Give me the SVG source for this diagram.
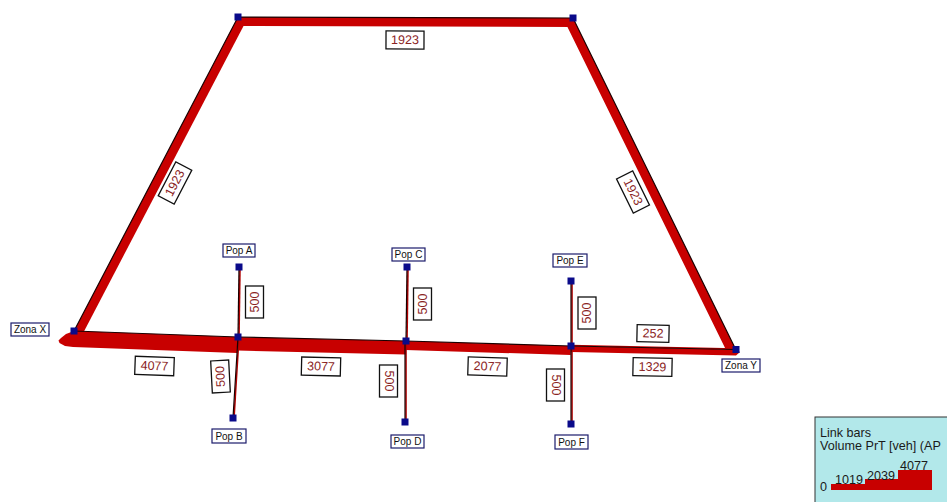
<svg xmlns="http://www.w3.org/2000/svg" width="947" height="502" viewBox="0 0 947 502">
<style>
  .bar{fill:#c80000;}
  .edge{fill:none;stroke:#1a0000;stroke-width:1.2;stroke-linejoin:miter;}
  .conn{stroke:#1a0000;stroke-width:1.2;}
  .connbar{stroke:#b00000;stroke-width:1.6;}
  .vbox{fill:#ffffff;stroke:#111111;stroke-width:1.3;}
  .vtxt{font-family:"Liberation Sans",Arial,sans-serif;font-size:12.5px;fill:#8a2323;text-anchor:middle;dominant-baseline:central;}
  .nbox{fill:#ffffff;stroke:#1c1c6c;stroke-width:1.2;}
  .ntxt{font-family:"Liberation Sans",Arial,sans-serif;font-size:10px;fill:#111111;text-anchor:middle;dominant-baseline:central;}
  .sq{fill:#0a0a8a;}
  .ltxt{font-family:"Liberation Sans",Arial,sans-serif;font-size:12.6px;fill:#1a1a1a;}
</style>

<g id="connectors">
  <polygon class="bar" points="74,331 238,17 246,21.2 82,335.2"/>
  <polygon class="bar" points="238,17 573,18 573,27 238,26"/>
  <polygon class="bar" points="573,18 736,350 739,352 728,354 565,22"/>
  <polygon class="bar" points="74,331 238,337 237.4,353 73,347 65,346 59.5,343 58.5,340.5 61,338 66,334"/>
  <polygon class="bar" points="238,337 406,341 405.7,354.5 237.7,350.5"/>
  <polygon class="bar" points="406,341 571,346 570.7,355 405.7,350"/>
  <polygon class="bar" points="571,346 736,349.5 740,352 736,355.5 571,352"/>
  <polygon class="bar" points="571,344.8 736,348.3 736,349.5 571,346"/>
  <polyline class="edge" points="74,331 238,17 573,18 736,350"/>
  <polyline class="edge" points="74,331 238,337 406,341 571,346 736,349.5"/>
  <line class="connbar" x1="240" y1="267" x2="239" y2="337"/>
  <line class="conn" x1="239" y1="267" x2="238" y2="337"/>
  <line class="connbar" x1="239" y1="337" x2="234" y2="418"/>
  <line class="conn" x1="238" y1="337" x2="233" y2="418"/>
  <line class="connbar" x1="408" y1="267" x2="407" y2="341"/>
  <line class="conn" x1="407" y1="267" x2="406" y2="341"/>
  <line class="connbar" x1="406" y1="341" x2="406" y2="422"/>
  <line class="conn" x1="405" y1="341" x2="405" y2="422"/>
  <line class="connbar" x1="572" y1="281" x2="572" y2="346"/>
  <line class="conn" x1="571" y1="281" x2="571" y2="346"/>
  <line class="connbar" x1="572" y1="346" x2="572" y2="424"/>
  <line class="conn" x1="571" y1="346" x2="571" y2="424"/>

  <g transform="translate(405,40) rotate(0.2)"><rect class="vbox" x="-19" y="-9" width="38" height="18"/><text class="vtxt" x="0" y="0">1923</text></g>
  <g transform="translate(175,183) rotate(-62.4)"><rect class="vbox" x="-19" y="-9" width="38" height="18"/><text class="vtxt" x="0" y="0">1923</text></g>
  <g transform="translate(633,192) rotate(63.8)"><rect class="vbox" x="-19" y="-9" width="38" height="18"/><text class="vtxt" x="0" y="0">1923</text></g>
  <g transform="translate(154.5,366) rotate(2.1)"><rect class="vbox" x="-19.5" y="-9" width="39" height="18"/><text class="vtxt" x="0" y="0">4077</text></g>
  <g transform="translate(321,366.5) rotate(1.4)"><rect class="vbox" x="-19.5" y="-9" width="39" height="18"/><text class="vtxt" x="0" y="0">3077</text></g>
  <g transform="translate(487.5,366.5) rotate(1.7)"><rect class="vbox" x="-19.5" y="-9" width="39" height="18"/><text class="vtxt" x="0" y="0">2077</text></g>
  <g transform="translate(653,333.5) rotate(1.2)"><rect class="vbox" x="-16" y="-8.5" width="32" height="17"/><text class="vtxt" x="0" y="0">252</text></g>
  <g transform="translate(652.5,367) rotate(1.2)"><rect class="vbox" x="-19.5" y="-9" width="39" height="18"/><text class="vtxt" x="0" y="0">1329</text></g>
  <g transform="translate(254.5,302) rotate(-90)"><rect class="vbox" x="-16" y="-9" width="32" height="18"/><text class="vtxt" x="0" y="0">500</text></g>
  <g transform="translate(220.5,376.5) rotate(-93)"><rect class="vbox" x="-16" y="-9" width="32" height="18"/><text class="vtxt" x="0" y="0">500</text></g>
  <g transform="translate(422.5,304) rotate(-90)"><rect class="vbox" x="-16" y="-9" width="32" height="18"/><text class="vtxt" x="0" y="0">500</text></g>
  <g transform="translate(388.5,381) rotate(90)"><rect class="vbox" x="-16" y="-9" width="32" height="18"/><text class="vtxt" x="0" y="0">500</text></g>
  <g transform="translate(587,313) rotate(-90)"><rect class="vbox" x="-16" y="-9" width="32" height="18"/><text class="vtxt" x="0" y="0">500</text></g>
  <g transform="translate(555.5,385) rotate(90)"><rect class="vbox" x="-16" y="-9" width="32" height="18"/><text class="vtxt" x="0" y="0">500</text></g>
</g>

<g id="node-zona-x"><rect class="sq" x="70.5" y="327.5" width="7" height="7"/><rect class="nbox" x="11" y="323" width="38" height="13"/><text class="ntxt" x="30" y="329.5">Zona X</text></g>
<g id="node-top-left"><rect class="sq" x="234.5" y="13.5" width="7" height="7"/></g>
<g id="node-top-right"><rect class="sq" x="569.5" y="14.5" width="7" height="7"/></g>
<g id="node-zona-y"><rect class="sq" x="732.5" y="346" width="7" height="7"/><rect class="nbox" x="722" y="359" width="38" height="13"/><text class="ntxt" x="741" y="365.5">Zona Y</text></g>
<g id="node-junction-ab"><rect class="sq" x="234.5" y="333.5" width="7" height="7"/></g>
<g id="node-junction-cd"><rect class="sq" x="402.5" y="337.5" width="7" height="7"/></g>
<g id="node-junction-ef"><rect class="sq" x="567.5" y="342.5" width="7" height="7"/></g>
<g id="node-pop-a"><rect class="sq" x="235.5" y="263.5" width="7" height="7"/><rect class="nbox" x="223" y="244" width="32" height="13"/><text class="ntxt" x="239" y="250.5">Pop A</text></g>
<g id="node-pop-b"><rect class="sq" x="229.5" y="414.5" width="7" height="7"/><rect class="nbox" x="212" y="429" width="34" height="14"/><text class="ntxt" x="229" y="436">Pop B</text></g>
<g id="node-pop-c"><rect class="sq" x="403.5" y="263.5" width="7" height="7"/><rect class="nbox" x="392" y="248" width="33" height="13"/><text class="ntxt" x="408.5" y="254.5">Pop C</text></g>
<g id="node-pop-d"><rect class="sq" x="401.5" y="418.5" width="7" height="7"/><rect class="nbox" x="391" y="435" width="33" height="13"/><text class="ntxt" x="407.5" y="441.5">Pop D</text></g>
<g id="node-pop-e"><rect class="sq" x="567.5" y="277.5" width="7" height="7"/><rect class="nbox" x="553" y="254" width="34" height="13"/><text class="ntxt" x="570" y="260.5">Pop E</text></g>
<g id="node-pop-f"><rect class="sq" x="567.5" y="420.5" width="7" height="7"/><rect class="nbox" x="555" y="435" width="33" height="14"/><text class="ntxt" x="571.5" y="442">Pop F</text></g>

<g id="legend">
  <rect x="815" y="417" width="140" height="90" fill="#b2e8ea" stroke="#333333" stroke-width="1"/>
  <text class="ltxt" x="820" y="437">Link bars</text>
  <text class="ltxt" x="820" y="450">Volume PrT [veh] (AP</text>
  <polygon class="bar" points="831,484 865,484 865,479 898,479 898,470 932,470 932,490 831,490"/>
  <text class="ltxt" x="820" y="491">0</text>
  <text class="ltxt" x="835" y="484">1019</text>
  <text class="ltxt" x="867" y="479.5">2039</text>
  <text class="ltxt" x="900" y="469.5">4077</text>
</g>
</svg>
